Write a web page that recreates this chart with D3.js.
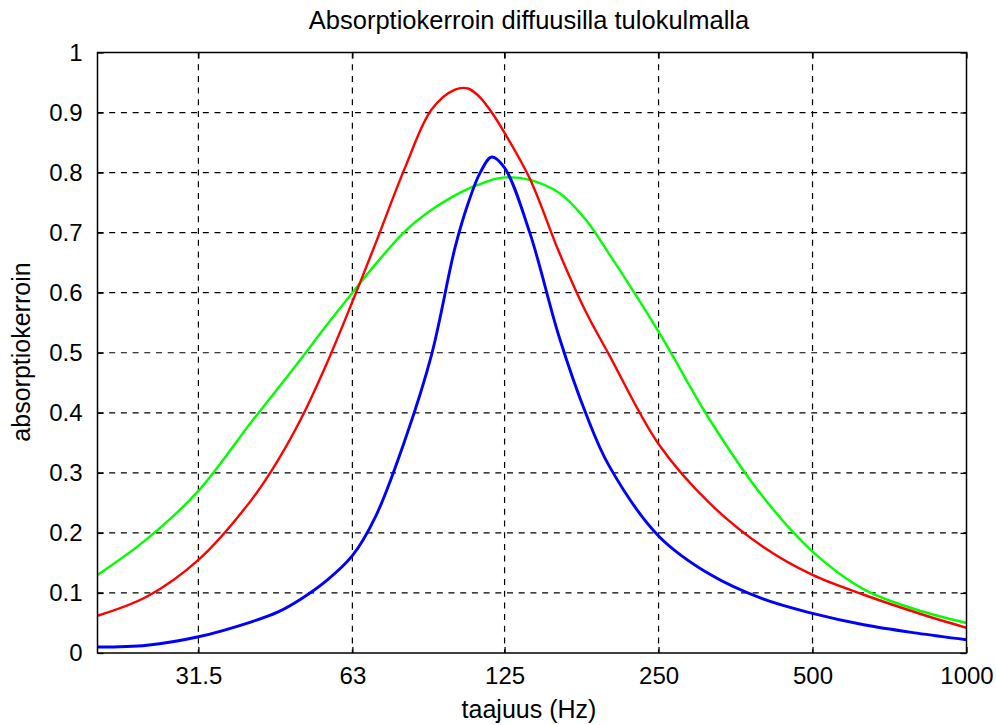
<!DOCTYPE html>
<html>
<head>
<meta charset="utf-8">
<script src="https://cdn.jsdelivr.net/npm/d3@7"></script>
<style>
  body { margin: 0; background: #fff; }
  text { font-family: "Liberation Sans", Arial, sans-serif; fill: #000; }
</style>
</head>
<body>
<svg width="996" height="725"></svg>
<script>
let width = 996,
    height = 725;

let margin = {top: 52.5, right: 29.5, bottom: 72, left: 97.5};

// taajuudet (Hz)
let freqs = [20, 25, 31.5, 40, 45, 50, 56, 63, 70, 80, 90, 100, 106, 112, 118, 125, 140, 160, 180, 200, 250, 315, 400, 500, 630, 800, 1000];

let greenVals = [.13, .19, .27, .385, .44, .49, .545, .60, .648, .703, .738, .762, .773, .781, .788, .792, .788, .766, .722, .665, .535, .388, .26, .169, .106, .072, .05];
let redVals   = [.062, .094, .155, .255, .32, .39, .48, .585, .683, .81, .905, .938, .94, .925, .90, .866, .79, .666, .569, .497, .348, .249, .177, .13, .097, .067, .042];
let blueVals  = [.010, .013, .027, .052, .068, .09, .12, .162, .228, .357, .497, .675, .748, .80, .826, .808, .70, .525, .40, .312, .195, .131, .09, .066, .047, .033, .022];

let xTicks = [31.5, 63, 125, 250, 500, 1000];
let yTicks = [0, 0.1, 0.2, 0.3, 0.4, 0.5, 0.6, 0.7, 0.8, 0.9, 1];

let series = [
  {name: "green", color: "#00ff00", values: greenVals, w: 2.4},
  {name: "red", color: "#ff0000", values: redVals, w: 2.4},
  {name: "blue", color: "#0000ff", values: blueVals, w: 2.9}
];

let x = d3.scaleLog()
    .domain([20, 1000])
    .range([margin.left, width - margin.right]);

let y = d3.scaleLinear()
    .domain([0, 1])
    .range([height - margin.bottom, margin.top]);

let svg = d3.select("svg");

svg.append("rect")
    .attr("width", width)
    .attr("height", height)
    .attr("fill", "#fff");

// grid
let grid = svg.append("g").attr("class", "grid");

grid.selectAll("line.gx")
  .data(xTicks.slice(0, -1))
  .enter().append("line")
    .attr("class", "gx")
    .attr("x1", d => x(d)).attr("x2", d => x(d))
    .attr("y1", y(1)).attr("y2", y(0))
    .attr("stroke", "#000")
    .attr("stroke-width", 1.2)
    .attr("stroke-dasharray", "6,5.7");

grid.selectAll("line.gy")
  .data(yTicks.slice(1, -1))
  .enter().append("line")
    .attr("class", "gy")
    .attr("x1", x(20)).attr("x2", x(1000))
    .attr("y1", d => y(d)).attr("y2", d => y(d))
    .attr("stroke", "#000")
    .attr("stroke-width", 1.2)
    .attr("stroke-dasharray", "6,5.7");

// curves
let line = d3.line()
    .x((d, i) => x(freqs[i]))
    .y(d => y(d))
    .curve(d3.curveCatmullRom.alpha(0.5));

svg.append("g")
    .attr("class", "curves")
  .selectAll("path")
  .data(series)
  .enter().append("path")
    .attr("d", d => line(d.values))
    .attr("fill", "none")
    .attr("stroke", d => d.color)
    .attr("stroke-width", d => d.w)
    .attr("stroke-linejoin", "round");

// axes (ticks inward, box on all sides)
let tickLen = 6;

let xAxisB = d3.axisBottom(x)
    .tickValues(xTicks)
    .tickFormat(d => d)
    .tickSizeInner(-tickLen)
    .tickSizeOuter(0)
    .tickPadding(14);

let gxb = svg.append("g")
    .attr("transform", `translate(0,${y(0)})`)
    .call(xAxisB);

let gxt = svg.append("g")
    .attr("transform", `translate(0,${y(1)})`)
    .call(d3.axisTop(x).tickValues(xTicks).tickFormat("").tickSizeInner(-tickLen).tickSizeOuter(0));

let yAxisL = d3.axisLeft(y)
    .tickValues(yTicks)
    .tickFormat(d => d)
    .tickSizeInner(-tickLen)
    .tickSizeOuter(0)
    .tickPadding(15);

let gyl = svg.append("g")
    .attr("transform", `translate(${x(20)},0)`)
    .call(yAxisL);

let gyr = svg.append("g")
    .attr("transform", `translate(${x(1000)},0)`)
    .call(d3.axisRight(y).tickValues(yTicks).tickFormat("").tickSizeInner(-tickLen).tickSizeOuter(0));

[gxb, gxt, gyl, gyr].forEach(g => {
  g.select(".domain").remove();
  g.selectAll("line").attr("stroke", "#000").attr("stroke-width", 1.3);
  g.selectAll("text")
    .style("font-family", '"Liberation Sans", Arial, sans-serif')
    .style("font-size", "24px")
    .attr("fill", "#000");
});

// box
svg.append("rect")
    .attr("x", x(20))
    .attr("y", y(1))
    .attr("width", x(1000) - x(20))
    .attr("height", y(0) - y(1))
    .attr("fill", "none")
    .attr("stroke", "#000")
    .attr("stroke-width", 1.5);

// titles
svg.append("text")
    .attr("x", 529)
    .attr("y", 29)
    .attr("text-anchor", "middle")
    .style("font-size", "25.5px")
    .text("Absorptiokerroin diffuusilla tulokulmalla");

svg.append("text")
    .attr("x", 529)
    .attr("y", 718)
    .attr("text-anchor", "middle")
    .style("font-size", "25px")
    .text("taajuus (Hz)");

svg.append("text")
    .attr("transform", "translate(30,352) rotate(-90)")
    .attr("text-anchor", "middle")
    .style("font-size", "25px")
    .text("absorptiokerroin");
</script>
</body>
</html>
